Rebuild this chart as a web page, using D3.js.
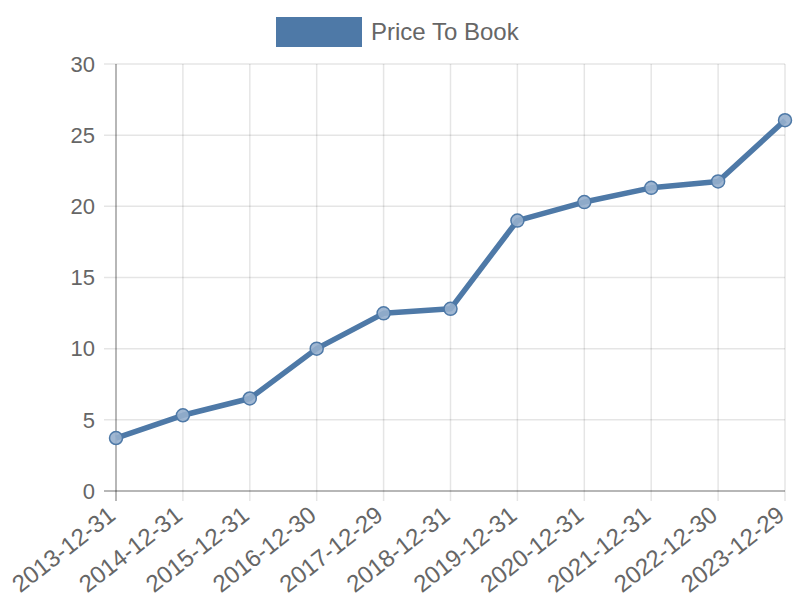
<!DOCTYPE html>
<html><head><meta charset="utf-8">
<script src="https://cdn.jsdelivr.net/npm/d3@7"></script>
<style>body{margin:0;background:#fff;} text{font-family:"Liberation Sans",Arial,Helvetica,sans-serif;}</style>
</head><body>
<svg id="c" width="800" height="600"></svg>
<script>
const categories = ["2013-12-31","2014-12-31","2015-12-31","2016-12-30","2017-12-29","2018-12-31","2019-12-31","2020-12-31","2021-12-31","2022-12-30","2023-12-29"];
const seriesName = "Price To Book";
const values = [3.72, 5.32, 6.5, 10.0, 12.48, 12.8, 19.0, 20.3, 21.3, 21.75, 26.05];
const yTicks = [0, 5, 10, 15, 20, 25, 30];

const color = "rgb(78,121,167)";
const svg = d3.select("#c");
const m = {l:116, r:785, t:64, b:491};
const x = d3.scalePoint().domain(categories).range([m.l, m.r]);
const y = d3.scaleLinear().domain([0, 30]).range([m.b, m.t]);

// grid
const g = svg.append("g");
g.selectAll(".hg").data(yTicks).enter().append("line")
  .attr("x1", m.l - 12).attr("x2", m.r).attr("y1", d => y(d)).attr("y2", d => y(d))
  .attr("stroke", "rgba(0,0,0,0.1)").attr("stroke-width", 1.5);
g.selectAll(".vg").data(categories).enter().append("line")
  .attr("x1", d => x(d)).attr("x2", d => x(d)).attr("y1", m.t).attr("y2", m.b + 10)
  .attr("stroke", "rgba(0,0,0,0.1)").attr("stroke-width", 1.5);
// axis lines
svg.append("line").attr("x1", m.l).attr("x2", m.l).attr("y1", m.t).attr("y2", m.b + 10)
  .attr("stroke", "rgba(0,0,0,0.3)").attr("stroke-width", 1.5);
svg.append("line").attr("x1", m.l - 12).attr("x2", m.r).attr("y1", m.b).attr("y2", m.b)
  .attr("stroke", "rgba(0,0,0,0.3)").attr("stroke-width", 1.5);

// y labels
svg.selectAll(".yl").data(yTicks).enter().append("text")
  .attr("x", 95).attr("y", d => y(d)).attr("dy", "0.35em")
  .attr("text-anchor", "end").attr("fill", "#666").attr("font-size", 22).text(d => d);

// x labels
svg.selectAll(".xl").data(categories).enter().append("text")
  .attr("transform", d => `translate(${x(d) + 1},${m.b + 27}) rotate(-38)`)
  .attr("text-anchor", "end").attr("fill", "#666").attr("font-size", 24).text(d => d);

// line
const line = d3.line().x((d, i) => x(categories[i])).y(d => y(d));
svg.append("path").datum(values).attr("d", line).attr("fill", "none")
  .attr("stroke", color).attr("stroke-width", 5.5).attr("stroke-linejoin", "round");
svg.selectAll(".pt").data(values).enter().append("circle")
  .attr("cx", (d, i) => x(categories[i])).attr("cy", d => y(d)).attr("r", 6.5)
  .attr("fill", "rgba(150,175,205,0.9)").attr("stroke", color).attr("stroke-width", 1.5);

// legend
svg.append("rect").attr("x", 276).attr("y", 17).attr("width", 86).attr("height", 30).attr("fill", color);
svg.append("text").attr("x", 371).attr("y", 32).attr("dy", "0.35em").attr("fill", "#666")
  .attr("font-size", 24).text(seriesName);
</script>
</body></html>
